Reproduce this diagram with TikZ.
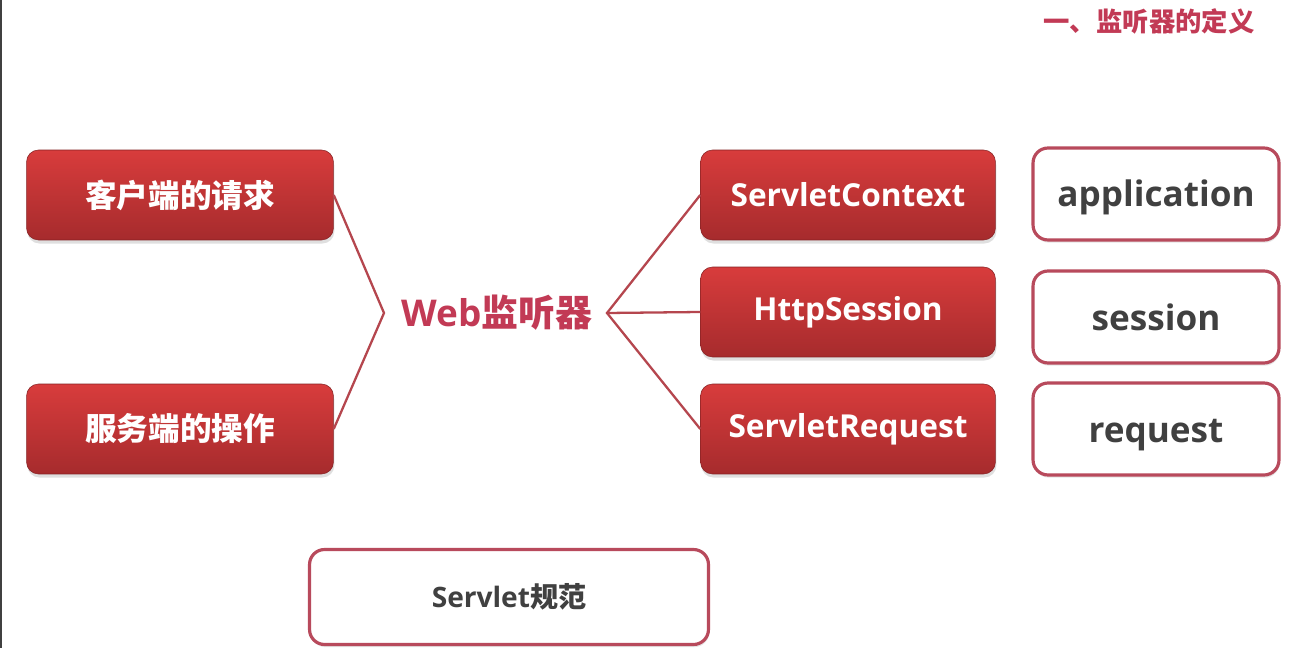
\documentclass[tikz,border=0pt]{standalone}
\usepackage{fontspec}
\setmainfont{Open Sans}
\newfontfamily\cjk{Noto Sans CJK SC}
\usetikzlibrary{shadows}
\definecolor{boxtop}{HTML}{D83C3C}
\definecolor{boxbot}{HTML}{A62B2D}
\definecolor{linered}{HTML}{B5464E}
\definecolor{titlered}{HTML}{C23A55}
\definecolor{framered}{HTML}{B84A5C}
\definecolor{graytext}{HTML}{404040}
\tikzset{
  redbox/.style={rounded corners=0.24cm, top color=boxtop, bottom color=boxbot,
    draw=boxbot!80!black, line width=0.3pt, text=white, font=\bfseries\fontsize{18}{22}\selectfont,
    minimum height=1.8cm, inner sep=0pt,
    drop shadow={shadow xshift=0.5pt, shadow yshift=-2pt, opacity=0.25}},
  whitebox/.style={rounded corners=0.3cm, fill=white, draw=framered, line width=1.8pt,
    text=graytext, font=\bfseries\fontsize{20}{24}\selectfont,
    text height=18pt, text depth=3.2pt,
    minimum width=4.92cm, minimum height=1.84cm, inner sep=0pt,
    drop shadow={shadow xshift=0.5pt, shadow yshift=-1.5pt, opacity=0.2}},
  conn/.style={draw=linered, line width=1.3pt},
}
\begin{document}
\begin{tikzpicture}[x=0.02cm, y=-0.02cm]
\useasboundingbox (0,0) rectangle (1291,648);
\fill[white] (0,0) rectangle (1291,648);
\draw[black!75, line width=0.8pt] (0.8,0) -- (0.8,648);

\node[font=\cjk\bfseries\fontsize{15}{18}\selectfont, text=titlered] (title) at (1149,21) {一、监听器的定义};

\node[redbox, minimum width=6.14cm] (l1) at (180,195) {\cjk 客户端的请求};
\node[redbox, minimum width=6.14cm] (l2) at (180,429) {\cjk 服务端的操作};

\node[text=titlered, font=\bfseries\fontsize{21}{25}\selectfont, inner sep=0pt] (web) at (497,313) {Web{\cjk 监听器}};

\node[redbox, minimum width=5.9cm] (r1) at (848,195) {ServletContext};
\node[redbox, minimum width=5.9cm] (r2) at (848,312) {HttpSession};
\node[redbox, minimum width=5.9cm] (r3) at (848,429) {ServletRequest};

\node[whitebox] (w1) at (1156,194) {application};
\node[whitebox] (w2) at (1156,317) {session};
\node[whitebox] (w3) at (1156,429) {request};

\node[whitebox, minimum width=7.98cm, minimum height=1.9cm, text height=14.4pt, text depth=2.6pt, font=\bfseries\fontsize{16}{20}\selectfont] (spec) at (509,597) {Servlet{\cjk 规范}};

\coordinate (jl) at (384,313);
\coordinate (jr) at (607,313);
\draw[conn] (l1.east) -- (jl) -- (l2.east);
\draw[conn] (r1.west) -- (jr) -- (r3.west);
\draw[conn] (jr) -- (r2.west);
\end{tikzpicture}
\end{document}
